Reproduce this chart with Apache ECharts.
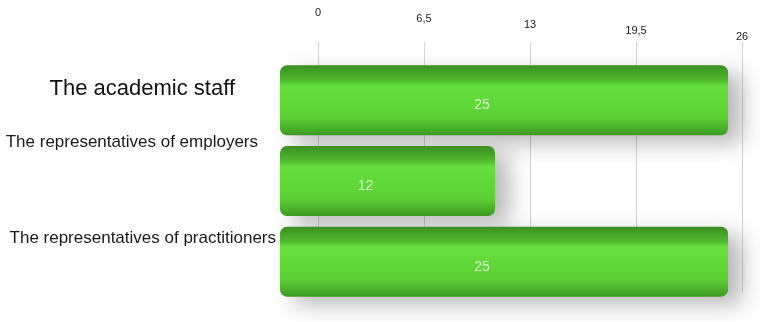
<!DOCTYPE html>
<html><head><meta charset="utf-8">
<script src="https://cdn.jsdelivr.net/npm/echarts@6/dist/echarts.min.js"></script>
<style>html,body{margin:0;padding:0;background:#fff}#c{width:770px;height:322px}</style>
</head><body><div id="c"></div>
<script>
const categories = ['The academic staff', 'The representatives of employers', 'The representatives of practitioners'];
const values = [25, 12, 25];
const tickLabels = ['0', '6,5', '13', '19,5', '26'];

const chart = echarts.init(document.getElementById('c'));
const topRich = {};
const pads = [24, 18, 12, 6, 0];
pads.forEach((p, i) => { topRich['t' + i] = { fontSize: 11, color: '#222', padding: [0, 0, p, 0], fontFamily: 'Liberation Sans' }; });
const catRich = {
  c0: { fontSize: 22, color: '#111', padding: [0, 41, 22, 0], fontFamily: 'Liberation Sans' },
  c1: { fontSize: 17, color: '#1a1a1a', padding: [0, 18, 78, 0], fontFamily: 'Liberation Sans' },
  c2: { fontSize: 17, color: '#1a1a1a', padding: [0, 0, 46, 0], fontFamily: 'Liberation Sans' }
};
chart.setOption({
  animation: false,
  backgroundColor: '#fff',
  grid: [
    { left: 280, right: 24, top: 60, bottom: 20 },
    { left: 318, right: 28, top: 42, bottom: 30 }
  ],
  xAxis: [
    { gridIndex: 0, type: 'value', min: 0, max: 26, interval: 6.5, show: false },
    { gridIndex: 1, type: 'value', min: 0, max: 26, interval: 6.5, position: 'top',
      axisLine: { show: false }, axisTick: { show: false },
      splitLine: { show: true, lineStyle: { color: '#d4d4d4', width: 1 } },
      axisLabel: { margin: 0, formatter: (v) => { const i = Math.round(v / 6.5); return '{t' + i + '|' + tickLabels[i] + '}'; }, rich: topRich } }
  ],
  yAxis: [
    { gridIndex: 0, type: 'category', inverse: true, data: categories,
      axisLine: { show: false }, axisTick: { show: false },
      axisLabel: { margin: 4, formatter: (v, i) => '{c' + i + '|' + v + '}', rich: catRich } },
    { gridIndex: 1, type: 'value', show: false }
  ],
  series: [{
    type: 'bar', xAxisIndex: 0, yAxisIndex: 0, data: values, barWidth: 70, z: 5,
    itemStyle: {
      borderRadius: 7,
      color: new echarts.graphic.LinearGradient(0, 0, 0, 1, [
        { offset: 0, color: '#3c8f22' },
        { offset: 0.2, color: '#4fb52e' },
        { offset: 0.3, color: '#66e03e' },
        { offset: 0.75, color: '#5cd035' },
        { offset: 1, color: '#3d9a23' }
      ]),
      shadowColor: 'rgba(0,0,0,0.28)', shadowBlur: 22, shadowOffsetX: 14, shadowOffsetY: 8
    },
    label: { show: true, position: 'inside', offset: [-22, 5], color: '#d6f5c6', fontSize: 14, fontFamily: 'Liberation Sans' }
  }]
});
</script></body></html>
